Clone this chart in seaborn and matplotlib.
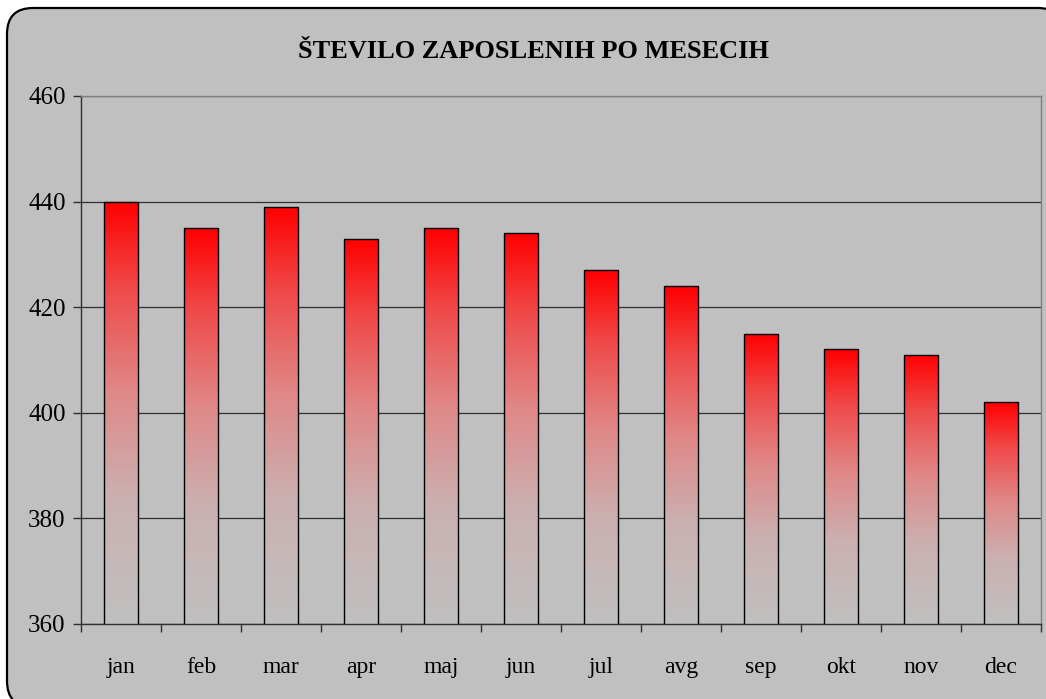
import numpy as np
import pandas as pd
import matplotlib
matplotlib.use("Agg")
import matplotlib.pyplot as plt
import seaborn as sns
from matplotlib.patches import FancyBboxPatch
from matplotlib.transforms import IdentityTransform
from matplotlib.colors import LinearSegmentedColormap
from matplotlib.ticker import FixedLocator, MultipleLocator

months = ["jan", "feb", "mar", "apr", "maj", "jun", "jul", "avg", "sep", "okt", "nov", "dec"]
employees = [440, 435, 439, 433, 435, 434, 427, 424, 415, 412, 411, 402]
title = "ŠTEVILO ZAPOSLENIH PO MESECIH"

sns.set_theme(style="white")
plt.rcParams['font.family'] = ['Liberation Serif', 'DejaVu Serif']

W, H = 1046, 699
fig = plt.figure(figsize=(W / 100, H / 100), dpi=100, facecolor="white")

# rounded chart-area frame (extends slightly past right/bottom edges)
frame = FancyBboxPatch((7, -8), 1064 - 7, H - 8 + 8, boxstyle="round,pad=0,rounding_size=26",
                       transform=IdentityTransform(), facecolor="#C0C0C0", edgecolor="black",
                       linewidth=1.6, zorder=-10)
fig.patches.append(frame)

ax = fig.add_axes([81 / W, 1 - 624 / H, (1041 - 81) / W, (624 - 96) / H])
ax.set_facecolor("#C0C0C0")
ax.set_zorder(1)

df = pd.DataFrame({"month": months, "value": employees})
sns.barplot(data=df, x="month", y="value", ax=ax, width=0.42, color="red",
            edgecolor="black", linewidth=1.0, zorder=3)

ax.set_ylim(360, 460)
ax.set_xlim(-0.5, len(months) - 0.5)
ax.yaxis.set_major_locator(MultipleLocator(20))
ax.grid(axis="y", color="#303030", linewidth=0.9, zorder=0)
ax.set_axisbelow(True)

# gradient fills clipped to each bar
cmap = LinearSegmentedColormap.from_list(
    "rg", [(0.0, "#C0C0C0"), (0.3, "#CBB0B0"), (0.55, "#E08888"), (0.8, "#F04848"), (1.0, "#FF0000")])
grad = np.linspace(0, 1, 256).reshape(-1, 1)
for p in ax.patches:
    x0, y0 = p.get_x(), p.get_y()
    w, h = p.get_width(), p.get_height()
    y_bot = 360
    y_top = y0 + h
    p.set_facecolor("none")
    im = ax.imshow(grad, cmap=cmap, aspect="auto", origin="lower",
                   extent=(x0, x0 + w, y_bot, y_top), zorder=2.5)
    im.set_clip_path(p)
ax.set_xlim(-0.5, len(months) - 0.5)
ax.set_ylim(360, 460)

for s in ["top", "right"]:
    ax.spines[s].set_color("#7F7F7F")
    ax.spines[s].set_linewidth(1.0)
for s in ["left", "bottom"]:
    ax.spines[s].set_color("#303030")
    ax.spines[s].set_linewidth(1.0)

ax.set_xlabel("")
ax.set_ylabel("")
ax.tick_params(axis="y", which="major", left=True, length=6, width=1, color="#303030",
               labelsize=18, pad=5, labelcolor="black")
ax.tick_params(axis="x", which="major", bottom=True, length=0, labelsize=17, pad=24,
               labelcolor="black")
ax.xaxis.set_minor_locator(FixedLocator(np.arange(-0.5, len(months), 1.0)))
ax.tick_params(axis="x", which="minor", bottom=True, length=6, width=1, color="#303030")

fig.text(533 / W, 1 - 52 / H, title, ha="center", va="center", fontsize=19,
         fontweight="bold", color="black")

fig.savefig("out.png", dpi=100, facecolor=fig.get_facecolor())
